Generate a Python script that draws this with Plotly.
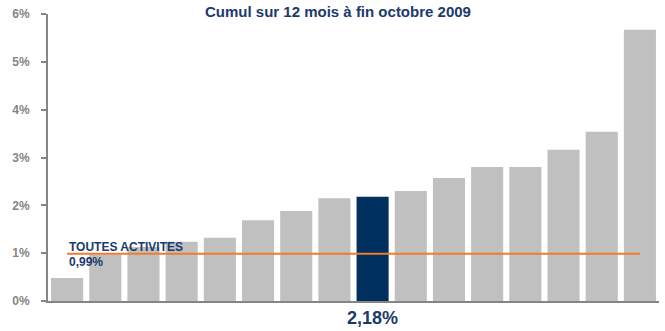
import plotly.graph_objects as go

categories = [f"C{i}" for i in range(1, 17)]
values = [0.48, 0.97, 1.13, 1.24, 1.32, 1.69, 1.88, 2.15, 2.18, 2.30, 2.57, 2.80, 2.80, 3.16, 3.54, 5.67]
highlight_index = 8
average_value = 0.99
average_label = "TOUTES ACTIVITES"
average_text = "0,99%"
highlight_text = "2,18%"
title_text = "Cumul sur 12 mois à fin octobre 2009"
y_ticks = [0, 1, 2, 3, 4, 5, 6]
y_tick_labels = ["0%", "1%", "2%", "3%", "4%", "5%", "6%"]

GREY = "#C0C0C0"
NAVY = "#00305F"
TEXT_NAVY = "#1B3A6B"
ORANGE = "#EE7D2E"
AXIS_GREY = "#858585"

colors = [NAVY if i == highlight_index else GREY for i in range(len(values))]

fig = go.Figure()
fig.add_trace(go.Bar(x=categories, y=values, marker=dict(color=colors, line=dict(width=0)),
                     showlegend=False, hoverinfo="skip"))
fig.add_trace(go.Scatter(x=[categories[0], categories[-1]], y=[average_value, average_value],
                         mode="lines", line=dict(color=ORANGE, width=2), showlegend=False,
                         hoverinfo="skip"))

font_family = "Liberation Sans, Arial, sans-serif"

fig.add_annotation(x=categories[0], y=average_value, xref="x", yref="y", text=f"<b>{average_label}</b>",
                   showarrow=False, xanchor="left", yanchor="bottom", yshift=-2,
                   font=dict(family=font_family, size=12, color=TEXT_NAVY))
fig.add_annotation(x=categories[0], y=average_value, xref="x", yref="y", text=f"<b>{average_text}</b>",
                   showarrow=False, xanchor="left", yanchor="top", yshift=1,
                   font=dict(family=font_family, size=12, color=TEXT_NAVY))
fig.add_annotation(x=categories[highlight_index], y=0, xref="x", yref="y", text=f"<b>{highlight_text}</b>",
                   showarrow=False, xanchor="center", yanchor="top", yshift=-5,
                   font=dict(family=font_family, size=18, color=TEXT_NAVY))
fig.add_annotation(x=0.475, y=1, xref="paper", yref="paper", text=f"<b>{title_text}</b>",
                   showarrow=False, xanchor="center", yanchor="top", yshift=13,
                   font=dict(family=font_family, size=15, color=TEXT_NAVY))

fig.update_layout(
    width=665, height=331,
    margin=dict(l=48, r=6, t=14, b=30),
    paper_bgcolor="white", plot_bgcolor="white",
    bargap=0.16,
    font=dict(family=font_family),
)
fig.update_xaxes(showticklabels=False, showgrid=False, zeroline=False, showline=True,
                 linecolor=AXIS_GREY, linewidth=2, ticks="", range=[-0.5, 15.5], fixedrange=True)
fig.update_yaxes(range=[0, 6], tickvals=y_ticks, ticktext=y_tick_labels, showgrid=False,
                 zeroline=False, showline=True, linecolor=AXIS_GREY, linewidth=2,
                 ticks="outside", ticklen=5, tickwidth=2, tickcolor=AXIS_GREY,
                 ticklabelstandoff=9,
                 tickfont=dict(family=font_family, size=12, color=AXIS_GREY, weight="bold"))

fig.write_html("out.html")
